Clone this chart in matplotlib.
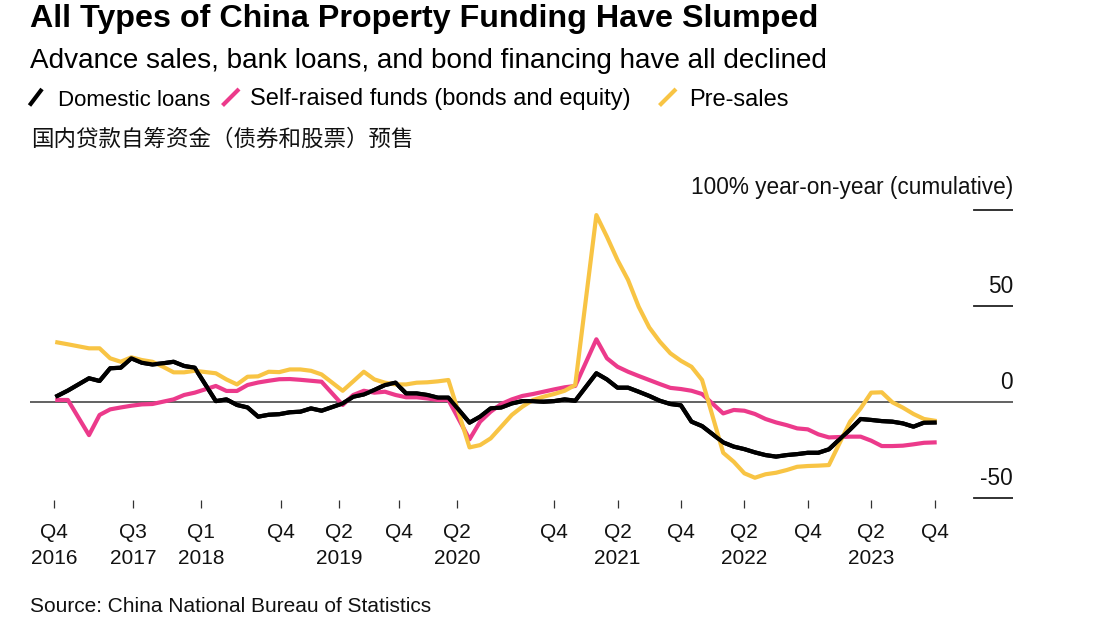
import matplotlib
matplotlib.use("Agg")
import matplotlib.pyplot as plt
import matplotlib.transforms as mtransforms
from matplotlib.lines import Line2D

# ---------------- data ----------------
# monthly cumulative y/y readings, January not published (Nov 2016 .. Oct 2023)
months = [(2016, 11), (2016, 12)]
for yr in range(2017, 2023):
    months += [(yr, mo) for mo in range(2, 13)]
months += [(2023, mo) for mo in range(2, 11)]

domestic_loans = [
    3.0, 5.8,
    12.2, 10.8, 17.4, 17.7, 22.6, 20.3, 19.4, 20.0, 20.8, 18.6, 17.7,          # 2017
    0.3, 1.2, -1.7, -3.0, -7.8, -6.8, -6.5, -5.5, -5.2, -3.5, -4.7,            # 2018
    -0.9, 2.6, 3.8, 6.1, 8.7, 9.9, 4.3, 4.3, 3.5, 2.1, 2.1,                    # 2019
    -10.9, -7.8, -3.5, -3.0, -0.9, 0.3, 0.3, 0.0, 0.3, 1.2, 0.5,               # 2020
    14.8, 11.6, 7.3, 7.3, 5.2, 3.0, 0.5, -1.2, -1.9, -10.4, -12.7,             # 2021
    -21.2, -23.4, -24.7, -26.4, -27.8, -28.6, -27.8, -27.3, -26.6, -26.6, -24.8,  # 2022
    -14.5, -9.0, -9.5, -10.1, -10.4, -11.3, -13.0, -10.9, -10.8,               # 2023
]
self_raised = [
    0.9, 0.9,
    -17.4, -6.9, -4.0, -3.0, -2.1, -1.4, -1.2, 0.0, 1.2, 3.5, 4.7,
    8.2, 5.6, 5.6, 8.7, 10.0, 10.9, 11.7, 11.8, 11.4, 10.9, 10.4,
    -1.7, 3.5, 5.7, 4.7, 5.2, 3.5, 2.3, 2.3, 1.7, 0.9, 0.9,
    -19.6, -10.4, -5.2, -1.2, 1.2, 3.0, 4.0, 5.2, 6.4, 7.5, 8.2,
    32.5, 22.6, 18.2, 15.6, 13.4, 11.3, 9.2, 7.2, 6.6, 5.7, 4.0,
    -6.1, -4.3, -4.7, -6.4, -9.0, -10.8, -12.2, -13.9, -14.4, -17.0, -18.6,
    -18.2, -18.2, -20.3, -23.1, -23.1, -22.9, -22.2, -21.4, -21.2,
]
pre_sales = [
    30.9, 29.9,
    27.8, 27.8, 22.6, 20.8, 23.1, 21.7, 20.8, 18.2, 15.3, 15.3, 16.1,
    14.8, 11.6, 9.0, 13.0, 13.2, 15.6, 15.4, 16.8, 16.8, 16.1, 14.2,
    5.7, 10.6, 15.6, 11.6, 9.9, 9.0, 9.0, 9.9, 10.1, 10.6, 11.3,
    -23.8, -22.6, -19.1, -13.0, -6.9, -2.6, 0.9, 2.6, 4.0, 5.7, 8.7,
    97.2, 85.9, 73.8, 63.4, 49.5, 38.7, 31.3, 25.2, 21.3, 18.2, 11.3,
    -26.6, -31.3, -37.3, -39.6, -37.8, -37.0, -35.6, -33.9, -33.5, -33.3, -33.0,
    -10.4, -3.5, 4.7, 4.9, -0.3, -3.1, -6.4, -9.0, -9.9,
]

tick_labels = ["Q4\n2016", "Q3\n2017", "Q1\n2018", "Q4", "Q2\n2019", "Q4", "Q2\n2020",
               "Q4", "Q2\n2021", "Q4", "Q2\n2022", "Q4", "Q2\n2023", "Q4"]
# tick positions in month units (months since Jan 2016)
tick_pos = [9.69, 17.16, 23.60, 31.17, 36.66, 42.34, 47.83,
            57.0, 63.0, 69.0, 75.0, 81.0, 87.0, 93.0]

y_levels = [100, 50, 0, -50]
y_texts = ["100% year-on-year (cumulative)", "50", "0", "-50"]

series_names = ["Domestic loans", "Self-raised funds (bonds and equity)", "Pre-sales"]
colors = ["#000000", "#EC3A8B", "#F8C444"]

# ---------------- figure ----------------
W, H = 1118, 642
plt.rcParams["font.family"] = ["Liberation Sans", "DejaVu Sans"]
fig = plt.figure(figsize=(W / 100, H / 100), dpi=100)

def fx(px):
    return px / W

def fy(py):
    return 1 - py / H

x = [(yr - 2016) * 12 + (mo - 1) for yr, mo in months]

# axes mapping: month 10 -> px 57.3, 10.57 px / month; value 0 -> py 401.7, 1.92 px / unit
ax_left, ax_right = 30, 1013
ax_top, ax_bottom = 201.0, 499.6
ax = fig.add_axes([fx(ax_left), fy(ax_bottom), (ax_right - ax_left) / W, (ax_bottom - ax_top) / H])
ax.set_xlim(10 + (ax_left - 57.3) / 10.57, 10 + (ax_right - 57.3) / 10.57)
ax.set_ylim((401.7 - ax_bottom) / 1.92, (401.7 - ax_top) / 1.92)
for s in ax.spines.values():
    s.set_visible(False)
ax.patch.set_alpha(0)

# gridlines
ax.axhline(0, color="#555555", lw=1.3, zorder=1)
for v in y_levels:
    if v != 0:
        ax.axhline(v, xmin=(974 - ax_left) / (ax_right - ax_left), xmax=1.0,
                   color="#222222", lw=1.3, zorder=1)

trans = mtransforms.blended_transform_factory(ax.transAxes, ax.transData)
for v, t in zip(y_levels, y_texts):
    off = 11.0 if v == 100 else 9.5
    ax.annotate(t, xy=(1.0, v), xycoords=trans, xytext=(0, off), textcoords="offset points",
                ha="right", va="baseline", fontsize=16.3, color="#111111")

# series
for vals, c in zip([domestic_loans, self_raised, pre_sales], colors):
    ax.plot(x, vals, color=c, lw=3.0, zorder=3)
ax.plot(x, domestic_loans, color=colors[0], lw=3.0, zorder=4)

ax.set_yticks([])
ax.set_xticks(tick_pos)
ax.set_xticklabels(tick_labels, fontsize=15, color="#111111", linespacing=1.42)
ax.tick_params(axis="x", direction="out", length=6, width=0.9, color="#333333", pad=11)

# ---------------- header ----------------
fig.text(fx(30), fy(27), "All Types of China Property Funding Have Slumped",
         fontsize=23.2, fontweight="bold", ha="left", va="baseline", color="#000000")
fig.text(fx(30), fy(68), "Advance sales, bank loans, and bond financing have all declined",
         fontsize=20.1, ha="left", va="baseline", color="#000000")

# legend
leg_base = 105.5
leg_slash = [(29.5, 42.0), (222.5, 239.0), (659.5, 676.0)]
leg_text_x = [58, 250, 689]
leg_sizes = [16.0, 17.0, 17.0]
for (x0, x1), tx, name, c, fs in zip(leg_slash, leg_text_x, series_names, colors, leg_sizes):
    fig.add_artist(Line2D([fx(x0), fx(x1)], [fy(leg_base), fy(leg_base - 16.5)],
                          transform=fig.transFigure, color=c, lw=3.0, solid_capstyle="butt"))
    fig.text(fx(tx), fy(leg_base), name, fontsize=fs, ha="left", va="baseline", color="#000000")

fig.text(fx(31), fy(146), "国内贷款自筹资金（债券和股票）预售", fontsize=16.2,
         family=["Noto Sans CJK SC", "DejaVu Sans"], ha="left", va="baseline", color="#111111")

fig.text(fx(30), fy(612), "Source: China National Bureau of Statistics",
         fontsize=15.0, ha="left", va="baseline", color="#111111")

fig.savefig("out.png", dpi=100)
